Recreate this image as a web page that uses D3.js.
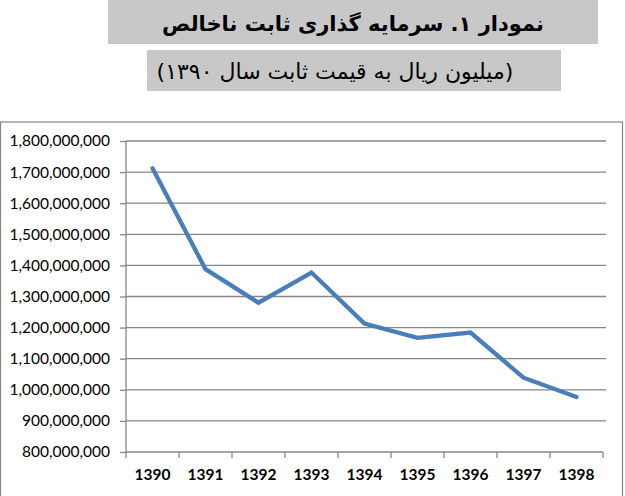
<!DOCTYPE html>
<html>
<head>
<meta charset="utf-8">
<script src="https://cdn.jsdelivr.net/npm/d3@7"></script>
<style>
  html, body { margin: 0; padding: 0; background: #fff; }
  svg { display: block; }
</style>
</head>
<body>
<svg id="chart" width="625" height="496"></svg>
<script>
const years = ["1390", "1391", "1392", "1393", "1394", "1395", "1396", "1397", "1398"];
const investment = [1712000000, 1388000000, 1280000000, 1377000000, 1213000000, 1167000000, 1184000000, 1039000000, 977000000];
const yTicks = [800000000, 900000000, 1000000000, 1100000000, 1200000000, 1300000000, 1400000000, 1500000000, 1600000000, 1700000000, 1800000000];
const titleText = "نمودار ۱. سرمایه گذاری ثابت ناخالص";
const subtitleText = "(میلیون ریال به قیمت ثابت سال ۱۳۹۰)";

const svg = d3.select("#chart");

// Title boxes
svg.append("rect").attr("x", 108).attr("y", 0).attr("width", 490).attr("height", 44).attr("fill", "#c8c8c8");
svg.append("text").attr("x", 353).attr("y", 31).attr("text-anchor", "middle")
  .attr("direction", "rtl")
  .style("font-family", "'DejaVu Sans', sans-serif").style("font-size", "21px").style("font-weight", "bold")
  .attr("fill", "#000").text(titleText);

svg.append("rect").attr("x", 147).attr("y", 50).attr("width", 414).attr("height", 41).attr("fill", "#c8c8c8");
svg.append("text").attr("x", 335).attr("y", 79).attr("text-anchor", "middle")
  .attr("direction", "rtl")
  .style("font-family", "'DejaVu Sans', sans-serif").style("font-size", "22px")
  .attr("fill", "#000").text(subtitleText);

// Chart frame
svg.append("rect").attr("x", 0.5).attr("y", 122).attr("width", 622).attr("height", 380)
  .attr("fill", "none").attr("stroke", "#868686").attr("stroke-width", 1.2);

const pLeft = 126, pRight = 603, pTop = 141, pBottom = 452;

const x = d3.scaleBand().domain(years).range([pLeft, pRight]).padding(0);
const y = d3.scaleLinear().domain([800000000, 1800000000]).range([pBottom, pTop]);

// Gridlines
svg.append("g").selectAll("line").data(yTicks.slice(1)).join("line")
  .attr("x1", pLeft).attr("x2", 606)
  .attr("y1", d => y(d)).attr("y2", d => y(d))
  .attr("stroke", "#868686").attr("stroke-width", 1.3);

const fmt = d3.format(",");

// Y axis
const yAxis = svg.append("g").attr("transform", `translate(${pLeft},0)`)
  .call(d3.axisLeft(y).tickValues(yTicks).tickSize(6).tickPadding(10).tickFormat(d => fmt(d)));
yAxis.select(".domain").attr("stroke", "#868686").attr("stroke-width", 1.3).attr("d", `M0,${pTop}V${pBottom}`);
yAxis.selectAll(".tick line").attr("stroke", "#868686").attr("stroke-width", 1.3);
yAxis.selectAll(".tick text")
  .style("font-family", "Lato, 'Open Sans', sans-serif").style("font-size", "15.5px").attr("fill", "#000");

// X axis
const xAxis = svg.append("g").attr("transform", `translate(0,${pBottom})`)
  .call(d3.axisBottom(x).tickSize(0).tickPadding(17));
xAxis.select(".domain").attr("stroke", "#868686").attr("stroke-width", 1.3).attr("d", `M${pLeft},0H${pRight}`);
xAxis.selectAll(".tick text")
  .style("font-family", "Lato, 'Open Sans', sans-serif").style("font-size", "15.5px").style("font-weight", "bold").attr("fill", "#000");
// Boundary tick marks between categories
svg.append("g").selectAll("line").data(years).join("line")
  .attr("x1", d => x(d) + x.bandwidth()).attr("x2", d => x(d) + x.bandwidth())
  .attr("y1", pBottom).attr("y2", pBottom + 6)
  .attr("stroke", "#868686").attr("stroke-width", 1.3);
svg.append("line").attr("x1", pLeft).attr("x2", pLeft).attr("y1", pBottom).attr("y2", pBottom + 6)
  .attr("stroke", "#868686").attr("stroke-width", 1.3);

// Line
const line = d3.line()
  .x((d, i) => x(years[i]) + x.bandwidth() / 2)
  .y(d => y(d));
svg.append("path").datum(investment)
  .attr("d", line)
  .attr("fill", "none").attr("stroke", "#4a7ebb").attr("stroke-width", 4.3)
  .attr("stroke-linejoin", "miter").attr("stroke-linecap", "round");
</script>
</body>
</html>
